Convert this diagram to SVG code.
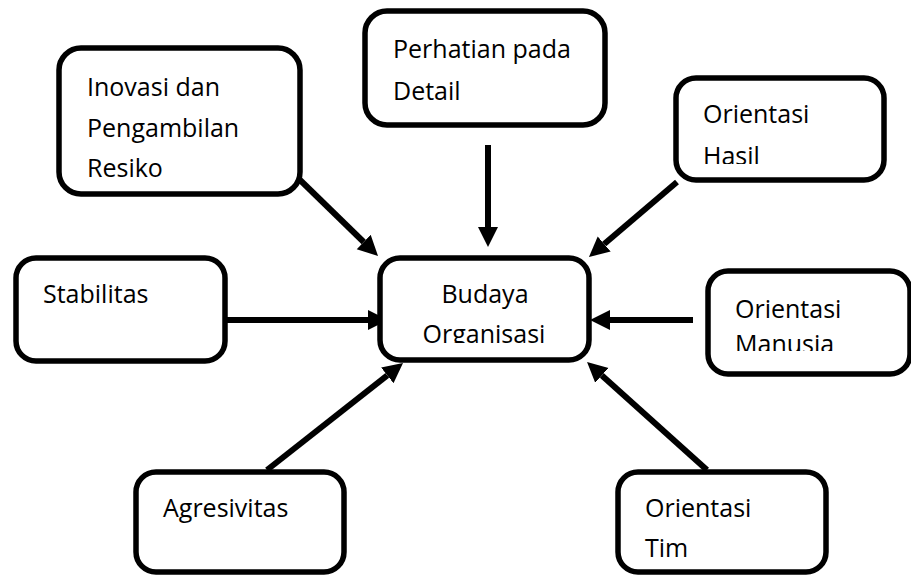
<svg xmlns="http://www.w3.org/2000/svg" width="911" height="578" viewBox="0 0 911 578">
<style>
.box{fill:#fff;stroke:#000;stroke-width:5.5}
.t{font-family:"Open Sans","Liberation Sans",sans-serif;font-size:25px;fill:#000}
.c{stroke:#000;stroke-width:6;fill:none}
</style>
<defs>
<marker id="ah" markerUnits="userSpaceOnUse" markerWidth="22" markerHeight="22" viewBox="0 -11 22 22" refX="0" refY="0" orient="auto">
<path d="M0,-10 L20,0 L0,10 z" fill="#000"/>
</marker>
<clipPath id="clipHasil"><rect x="676" y="78" width="208" height="86"/></clipPath>
<clipPath id="clipBudaya"><rect x="380" y="258" width="209" height="85"/></clipPath>
<clipPath id="clipManusia"><rect x="708" y="271" width="203" height="80"/></clipPath>
</defs>
<rect width="911" height="578" fill="#fff"/>
<g id="connectors">
<line class="c" x1="488" y1="145" x2="488" y2="227" marker-end="url(#ah)"/>
<line class="c" x1="299" y1="179" x2="363.7" y2="242" marker-end="url(#ah)"/>
<line class="c" x1="677" y1="182" x2="604.2" y2="244" marker-end="url(#ah)"/>
<line class="c" x1="226" y1="320" x2="368" y2="320" marker-end="url(#ah)"/>
<line class="c" x1="693" y1="320" x2="610" y2="320" marker-end="url(#ah)"/>
<line class="c" x1="267" y1="470" x2="387.3" y2="375.4" marker-end="url(#ah)"/>
<line class="c" x1="707" y1="470" x2="601.9" y2="375.4" marker-end="url(#ah)"/>
</g>
<g id="inovasi">
<rect class="box" x="59" y="48" width="241" height="146" rx="22"/>
<text class="t" x="87" y="96">Inovasi dan</text>
<text class="t" x="87" y="137">Pengambilan</text>
<text class="t" x="87" y="177">Resiko</text>
</g>
<g id="perhatian">
<rect class="box" x="365" y="11" width="240" height="114" rx="22"/>
<text class="t" x="393" y="58">Perhatian pada</text>
<text class="t" x="393" y="100">Detail</text>
</g>
<g id="hasil">
<rect class="box" x="676" y="78" width="208" height="102" rx="20"/>
<g clip-path="url(#clipHasil)">
<text class="t" x="703" y="123">Orientasi</text>
<text class="t" x="703" y="165">Hasil</text>
</g>
</g>
<g id="stabilitas">
<rect class="box" x="16" y="258" width="209" height="103" rx="20"/>
<text class="t" x="43" y="303">Stabilitas</text>
</g>
<g id="budaya">
<rect class="box" x="380" y="258" width="209" height="102" rx="20"/>
<g clip-path="url(#clipBudaya)">
<text class="t" x="485" y="303" text-anchor="middle">Budaya</text>
<text class="t" x="484" y="343" text-anchor="middle">Organisasi</text>
</g>
</g>
<g id="manusia">
<rect class="box" x="708" y="271" width="202" height="103" rx="20"/>
<g clip-path="url(#clipManusia)">
<text class="t" x="735" y="318">Orientasi</text>
<text class="t" x="735" y="353">Manusia</text>
</g>
</g>
<g id="agresivitas">
<rect class="box" x="136" y="472" width="208" height="100" rx="20"/>
<text class="t" x="163" y="517">Agresivitas</text>
</g>
<g id="tim">
<rect class="box" x="618" y="472" width="208" height="100" rx="20"/>
<text class="t" x="645" y="517">Orientasi</text>
<text class="t" x="645" y="557">Tim</text>
</g>
</svg>
